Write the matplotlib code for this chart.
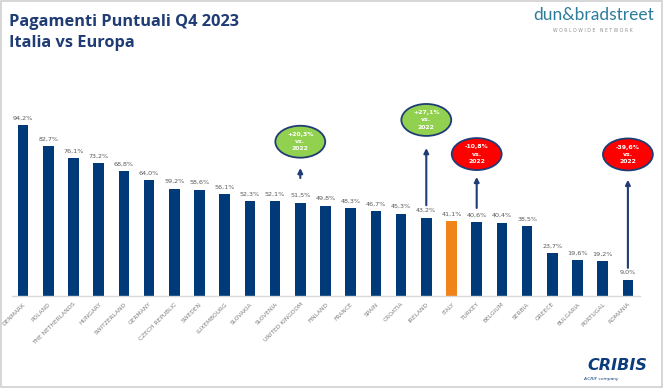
import matplotlib
matplotlib.use("Agg")
import matplotlib.pyplot as plt
from matplotlib.patches import Ellipse, Rectangle

countries = ["DENMARK", "POLAND", "THE NETHERLANDS", "HUNGARY", "SWITZERLAND", "GERMANY",
             "CZECH REPUBLIC", "SWEDEN", "LUXEMBOURG", "SLOVAKIA", "SLOVENIA", "UNITED KINGDOM",
             "FINLAND", "FRANCE", "SPAIN", "CROATIA", "IRELAND", "ITALY", "TURKEY", "BELGIUM",
             "SERBIA", "GREECE", "BULGARIA", "PORTUGAL", "ROMANIA"]
values = [94.2, 82.7, 76.1, 73.2, 68.8, 64.0, 59.2, 58.6, 56.1, 52.3, 52.1, 51.5,
          49.8, 48.3, 46.7, 45.3, 43.2, 41.1, 40.6, 40.4, 38.5, 23.7, 19.6, 19.2, 9.0]
highlight = "ITALY"

callout_countries = ["UNITED KINGDOM", "IRELAND", "TURKEY", "ROMANIA"]
callout_texts = ["+20,3%\nvs.\n2022", "+27,1%\nvs.\n2022", "-10,8%\nvs.\n2022", "-39,6%\nvs.\n2022"]
callout_colors = ["#92D050", "#92D050", "#FF0000", "#FF0000"]
# layout (ellipse centre y, arrow start y, arrow end y) in value units
callout_layout = [(85.0, 65.0, 70.5), (97.0, 50.0, 81.5), (78.2, 48.5, 65.6), (78.0, 15.5, 64.0)]

NAVY = "#003A78"
ORANGE = "#F0841A"

fig = plt.figure(figsize=(6.63, 3.88), dpi=100)
fig.patch.set_facecolor("white")
fig.patches.append(Rectangle((0.002, 0.003), 0.996, 0.994, transform=fig.transFigure,
                             fill=False, edgecolor="#D0D0D0", linewidth=1.2))

ax = fig.add_axes([0.0181, 0.2371, 0.9472, 0.4678])
x = list(range(len(countries)))
colors = [ORANGE if c == highlight else NAVY for c in countries]
ax.bar(x, values, width=0.42, color=colors)
ax.set_xlim(-0.44, 24.48)
ax.set_ylim(0, 100)
for s in ["top", "right", "left"]:
    ax.spines[s].set_visible(False)
ax.spines["bottom"].set_color("#D9D9D9")
ax.spines["bottom"].set_linewidth(1.0)
ax.set_yticks([])
ax.set_xticks(x)
ax.set_xticklabels(countries, rotation=45, ha="right", va="top",
                   rotation_mode="anchor", fontsize=4.2, color="#7F7F7F")
ax.tick_params(axis="x", length=0, pad=4)

for xi, v in zip(x, values):
    ax.text(xi, v + 2.5, f"{v:.1f}%".replace(".", ","), ha="center", va="bottom",
            fontsize=4.6, color="#595959")

for c, t, col, (ey, a0, a1) in zip(callout_countries, callout_texts, callout_colors, callout_layout):
    xi = countries.index(c)
    ax.annotate("", xy=(xi, a1), xytext=(xi, a0),
                arrowprops=dict(arrowstyle="-|>", color="#1F3C74", lw=1.5,
                                mutation_scale=7, shrinkA=0, shrinkB=0),
                annotation_clip=False)
    e = Ellipse((xi, ey), width=1.98, height=17.6, facecolor=col, edgecolor="#1F3C74",
                linewidth=1.3, clip_on=False, zorder=5)
    ax.add_patch(e)
    ax.text(xi, ey, t, ha="center", va="center", fontsize=4.4, color="white",
            fontweight="bold", linespacing=1.55, zorder=6, clip_on=False)

fig.text(0.0136, 0.944, "Pagamenti Puntuali Q4 2023", fontsize=11.8, fontweight="bold",
         color="#1F3C74", family="Open Sans", va="center", ha="left")
fig.text(0.0136, 0.888, "Italia vs Europa", fontsize=11.8, fontweight="bold",
         color="#1F3C74", family="Open Sans", va="center", ha="left")

fig.text(0.895, 0.962, "dun&bradstreet", fontsize=12.5, color="#2E7C9C",
         family="Lato", va="center", ha="center")
fig.text(0.894, 0.921, "W O R L D W I D E   N E T W O R K", fontsize=3.3, color="#909090",
         family="DejaVu Sans", va="center", ha="center")

fig.text(0.931, 0.057, "CRIBIS", fontsize=11.5, color="#0B3C7C", fontweight="bold",
         fontstyle="italic", family="DejaVu Sans", va="center", ha="center")
fig.text(0.907, 0.023, "A CRIF company", fontsize=3.2, color="#0B3C7C",
         fontstyle="italic", family="DejaVu Sans", va="center", ha="center")

fig.savefig("out.png", dpi=100)
